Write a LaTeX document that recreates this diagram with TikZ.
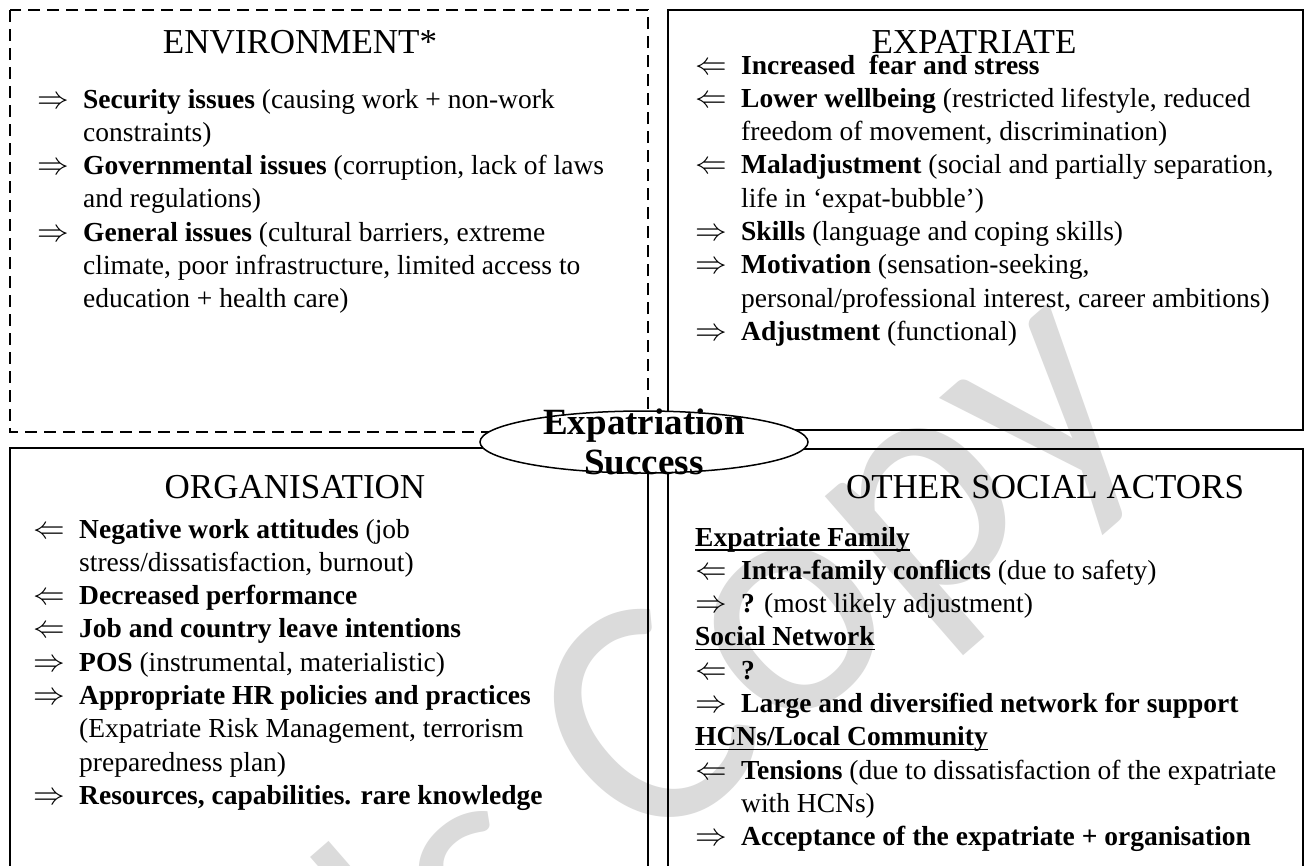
\RequirePackage{fix-cm}
\documentclass[tikz,border=0pt]{standalone}
\usepackage{fontspec}
\usepackage{graphicx}
\setmainfont{Liberation Serif}
\newfontfamily\wmfont{Carlito}
\usetikzlibrary{shapes.geometric}
\newcommand\hdul[1]{\setbox0\hbox{\textbf{#1}}\rlap{\rule[-4.5pt]{\wd0}{1.8pt}}\box0}
\newcommand\ra{\makebox[46pt][l]{\scalebox{1.15}{$\Rightarrow$}}}
\newcommand\la{\makebox[46pt][l]{\scalebox{1.15}{$\Leftarrow$}}}
\begin{document}
\begin{tikzpicture}[x=1pt,y=-1pt,
  box/.style={draw=black, line width=1.8pt},
  dbox/.style={draw=black, line width=1.8pt, dash pattern=on 12pt off 7pt},
  title/.style={font=\fontsize{35}{40}\selectfont, anchor=base, inner sep=0pt},
  body/.style={font=\fontsize{27.5}{33.3}\selectfont, anchor=base west, inner sep=0pt},
  wm/.style={text=black!14, font=\wmfont\fontsize{330}{330}\selectfont, rotate=41, inner sep=0pt}]
\useasboundingbox (0,0) rectangle (1309,865);
\clip (0,0) rectangle (1309,865);
\fill[white] (0,0) rectangle (1309,865);
% watermark
\node[wm] (mark) at (385,972) {Author's Copy};
% boxes
\draw[dbox] (10,10) rectangle (648,432);
\draw[box] (668,10) rectangle (1303,430);
\draw[box] (10,448) rectangle (648,900);
\draw[box] (668,449) rectangle (1303,900);
% titles
\node[title] (tenv) at (300,53) {ENVIRONMENT*};
\node[title] (texp) at (974,53) {EXPATRIATE};
\node[title] (torg) at (295,498) {ORGANISATION};
\node[title] (toth) at (1045,498) {OTHER SOCIAL ACTORS};
% environment
\node[body] (benv) at (37,108) {\begin{tabular}[t]{@{}l@{}l@{}}
\ra & \textbf{Security issues} (causing work + non-work\\
 & constraints)\\
\ra & \textbf{Governmental issues} (corruption, lack of laws\\
 & and regulations)\\
\ra & \textbf{General issues} (cultural barriers, extreme\\
 & climate, poor infrastructure, limited access to\\
 & education + health care)
\end{tabular}};
% expatriate
\node[body] (bexp) at (695,74) {\begin{tabular}[t]{@{}l@{}l@{}}
\la & \textbf{Increased\ \ fear and stress}\\
\la & \textbf{Lower wellbeing} (restricted lifestyle, reduced\\
 & freedom of movement, discrimination)\\
\la & \textbf{Maladjustment} (social and partially separation,\\
 & life in ‘expat-bubble’)\\
\ra & \textbf{Skills} (language and coping skills)\\
\ra & \textbf{Motivation} (sensation-seeking,\\
 & personal/professional interest, career ambitions)\\
\ra & \textbf{Adjustment} (functional)
\end{tabular}};
% organisation
\node[body] (borg) at (33,538) {\begin{tabular}[t]{@{}l@{}l@{}}
\la & \textbf{Negative work attitudes} (job\\
 & stress/dissatisfaction, burnout)\\
\la & \textbf{Decreased performance}\\
\la & \textbf{Job and country leave intentions}\\
\ra & \textbf{POS} (instrumental, materialistic)\\
\ra & \textbf{Appropriate HR policies and practices}\\
 & (Expatriate Risk Management, terrorism\\
 & preparedness plan)\\
\ra & \textbf{Resources, capabilities. rare knowledge}
\end{tabular}};
% other social actors
\node[body] (both) at (695,546) {\begin{tabular}[t]{@{}l@{}l@{}}
\multicolumn{2}{@{}l@{}}{\hdul{Expatriate Family}}\\
\la & \textbf{Intra-family conflicts} (due to safety)\\
\ra & \textbf{?} (most likely adjustment)\\
\multicolumn{2}{@{}l@{}}{\hdul{Social Network}}\\
\la & \textbf{?}\\
\ra & \textbf{Large and diversified network for support}\\
\multicolumn{2}{@{}l@{}}{\hdul{HCNs/Local Community}}\\
\la & \textbf{Tensions} (due to dissatisfaction of the expatriate\\
 & with HCNs)\\
\ra & \textbf{Acceptance of the expatriate + organisation}
\end{tabular}};
% centre ellipse
\node[ellipse, draw=black, fill=white, line width=1.5pt, minimum width=328pt, minimum height=62pt, inner sep=0pt] (success) at (644,442) {};
\node[align=center, inner sep=0pt, font=\fontsize{37}{40}\selectfont\bfseries] (successtext) at (success.center) {Expatriation\\Success};
\end{tikzpicture}
\end{document}
